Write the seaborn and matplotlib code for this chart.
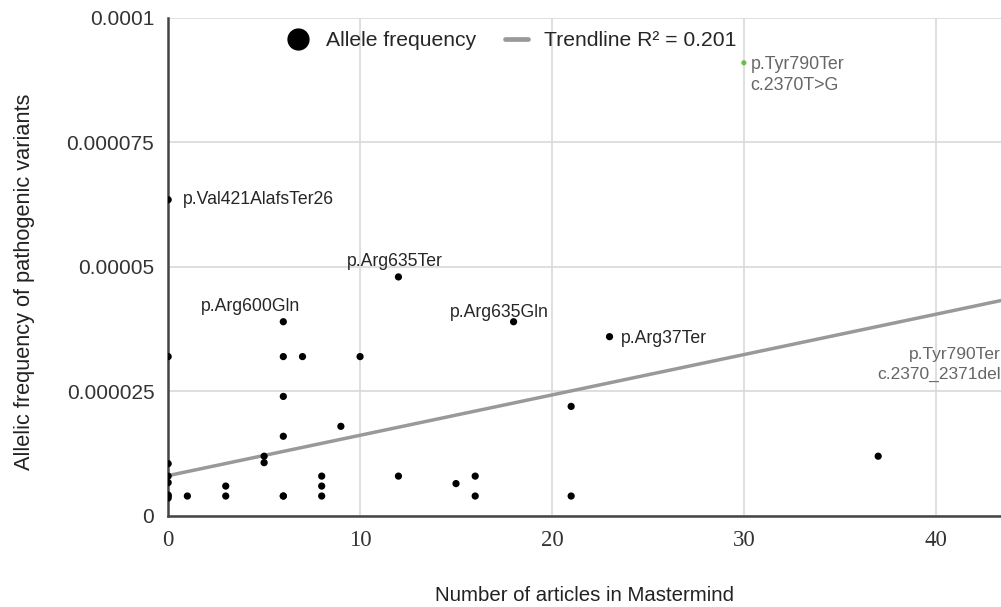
import matplotlib.pyplot as plt
import pandas as pd
import seaborn as sns
from matplotlib.lines import Line2D

# data
articles = [0, 0, 0, 0, 0, 0, 0, 0, 1, 3, 3, 5, 5, 6, 6, 6, 6, 6, 6, 7, 8, 8, 8,
            9, 10, 12, 12, 15, 16, 16, 18, 21, 21, 23, 37]
frequency = [6.35e-5, 3.2e-5, 1.05e-5, 8e-6, 6.7e-6, 4.2e-6, 3.6e-6, 4e-6, 4e-6, 6e-6, 4e-6,
             1.2e-5, 1.07e-5, 3.9e-5, 3.2e-5, 2.4e-5, 1.6e-5, 4e-6, 4e-6, 3.2e-5, 8e-6, 6e-6, 4e-6,
             1.8e-5, 3.2e-5, 4.8e-5, 8e-6, 6.5e-6, 8e-6, 4e-6, 3.9e-5, 2.2e-5, 4e-6, 3.6e-5, 1.2e-5]

highlight_x = [30]
highlight_y = [9.1e-5]

trend_intercept = 8.1e-6
trend_slope = 0.81e-6
trend_x = [0, 45]

labels = ['p.Val421AlafsTer26', 'p.Arg635Ter', 'p.Arg600Gln', 'p.Arg635Gln', 'p.Arg37Ter']
label_x = [0, 12, 6, 18, 23]
label_y = [6.35e-5, 4.8e-5, 3.9e-5, 3.9e-5, 3.6e-5]

y_ticks = [0, 0.000025, 0.00005, 0.000075, 0.0001]
y_ticklabels = ['0', '0.000025', '0.00005', '0.000075', '0.0001']
x_ticks = [0, 10, 20, 30, 40]

df = pd.DataFrame({'articles': articles, 'frequency': frequency})
trend = pd.DataFrame({'x': trend_x})
trend['y'] = trend_intercept + trend_slope * trend['x']

sns.set_style('whitegrid')
plt.rcParams['font.family'] = ['Liberation Sans', 'DejaVu Sans']

fig = plt.figure(figsize=(10.01, 6.07), dpi=100)
ax = fig.add_axes([0.168, 0.15, 0.832, 0.8204])

sns.lineplot(data=trend, x='x', y='y', color='#999999', linewidth=2.5, ax=ax)
sns.scatterplot(data=df, x='articles', y='frequency', color='black', s=27,
                edgecolor='none', ax=ax, zorder=3)
sns.scatterplot(x=highlight_x, y=highlight_y, color='#6abf4b', s=14, edgecolor='none',
                ax=ax, zorder=3)

ax.set_xlim(0, 43.4)
ax.set_ylim(0, 0.0001)
ax.set_xticks(x_ticks)
ax.set_yticks(y_ticks)
ax.set_yticklabels(y_ticklabels)
ax.tick_params(axis='x', labelsize=16.5, colors='#333333', length=0, pad=10)
ax.tick_params(axis='y', labelsize=15, colors='#333333', length=6, color='#cccccc', pad=4)
for t in ax.get_xticklabels():
    t.set_family(['Liberation Serif', 'DejaVu Serif'])
ax.grid(color='#d9d9d9', linewidth=1.2)
for s in ['top', 'right']:
    ax.spines[s].set_visible(False)
for s in ['left', 'bottom']:
    ax.spines[s].set_color('#444444')
    ax.spines[s].set_linewidth(1.8)

ax.set_xlabel('Number of articles in Mastermind', fontsize=14.7, color='#222222', labelpad=25)
ax.set_ylabel('Allelic frequency of pathogenic variants', fontsize=15.7, color='#222222')
ax.yaxis.set_label_coords(-0.16, 0.47)

# annotations for labelled variants
fs = 12.7
ax.text(label_x[0] + 0.75, label_y[0], labels[0], fontsize=fs, va='center', ha='left')
ax.text(label_x[1] - 0.2, label_y[1] + 3.1e-6, labels[1], fontsize=fs, va='center', ha='center')
ax.text(label_x[2] - 1.7, label_y[2] + 3.0e-6, labels[2], fontsize=fs, va='center', ha='center')
ax.text(label_x[3] - 0.75, label_y[3] + 1.8e-6, labels[3], fontsize=fs, va='center', ha='center')
ax.text(label_x[4] + 0.6, label_y[4] - 0.4e-6, labels[4], fontsize=fs, va='center', ha='left')
ax.text(highlight_x[0] + 0.35, highlight_y[0] - 2.45e-6, 'p.Tyr790Ter\nc.2370T>G', fontsize=12.8,
        color='#666666', va='center', ha='left', linespacing=1.35)
ax.text(43.4, 3.04e-5, 'p.Tyr790Ter\nc.2370_2371del', fontsize=12.5, color='#666666',
        va='center', ha='right', linespacing=1.35)

handles = [Line2D([], [], marker='o', color='black', linestyle='none', markersize=15),
           Line2D([], [], color='#999999', linewidth=3.4)]
ax.legend(handles, ['Allele frequency', 'Trendline R\u00b2 = 0.201'], loc='upper center',
          bbox_to_anchor=(0.412, 1.012), ncol=2, frameon=False, fontsize=15.2,
          handlelength=1.1, columnspacing=1.37, handletextpad=0.76)

plt.savefig('out.png', dpi=100)
